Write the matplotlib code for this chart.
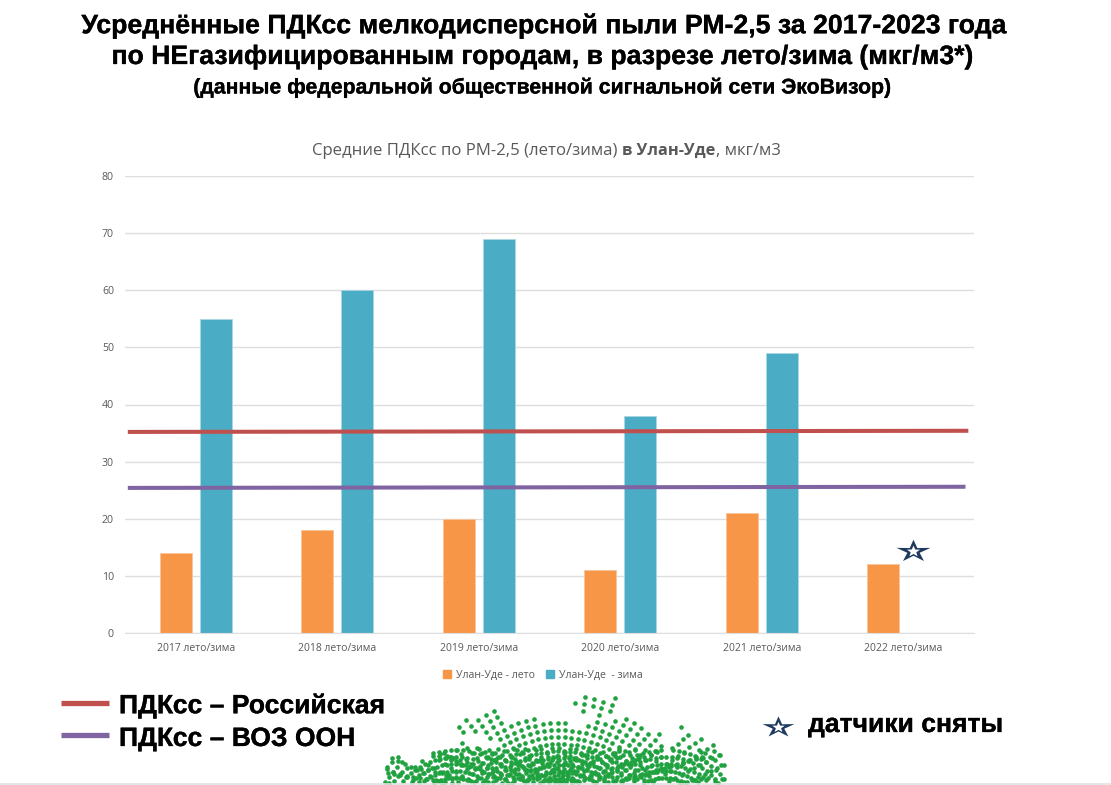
import numpy as np
import matplotlib
matplotlib.use("Agg")
import matplotlib.pyplot as plt
import matplotlib.patheffects as pe
from matplotlib.path import Path
from matplotlib.patches import Patch

categories = ["2017 лето/зима", "2018 лето/зима", "2019 лето/зима",
              "2020 лето/зима", "2021 лето/зима", "2022 лето/зима"]
summer = [14, 18, 20, 11, 21, 12]
winter = [55, 60, 69, 38, 49, np.nan]
pdk_ru = [35.2, 35.4]
pdk_who = [25.4, 25.6]
yticks = [0, 10, 20, 30, 40, 50, 60, 70, 80]

ORANGE, BLUE, RED, PURPLE = "#F79646", "#4BACC6", "#C0504D", "#8064A2"
NAVY, GREEN, GREY = "#1F3A5F", "#1FA23F", "#595959"
W, H = 1111, 785
SANS = "Liberation Sans"
UI = "Open Sans"
heavy = [pe.withStroke(linewidth=0.2, foreground="black")]


def star_path(sy=0.66, inner=0.36):
    a = np.pi / 2 + np.arange(10) * np.pi / 5
    r = np.where(np.arange(10) % 2 == 0, 1.0, inner)
    v = np.c_[r * np.cos(a), sy * r * np.sin(a)]
    return Path(np.vstack([v, v[0]]), closed=True)


def draw_star(axes, xs, ys, outer, small):
    axes.plot(xs, ys, marker=star_path(), ms=outer, mfc=NAVY, mec=NAVY, mew=0, ls="none", zorder=6, clip_on=False)
    axes.plot(xs, ys, marker=star_path(0.85, 0.42), ms=small, mfc="white", mec="white", mew=0, ls="none", zorder=7, clip_on=False)


fig = plt.figure(figsize=(W / 100, H / 100), dpi=100, facecolor="white")
L, R, T, B = 125, 974, 176, 633
ax = fig.add_axes([L / W, 1 - B / H, (R - L) / W, (B - T) / H])
x = np.arange(len(categories))
ax.bar(x - 0.141, summer, 0.226, color=ORANGE, edgecolor="#FBC49A", linewidth=0.6, zorder=2)
ax.bar(x + 0.141, winter, 0.226, color=BLUE, edgecolor="#A9D8E4", linewidth=0.6, zorder=2)
ax.plot([-0.48, 5.46], pdk_ru, color=RED, lw=2.9, zorder=3, solid_capstyle="butt")
ax.plot([-0.48, 5.44], pdk_who, color=PURPLE, lw=2.9, zorder=3, solid_capstyle="butt")
draw_star(ax, [5.07], [14.4], 24.5, 9.5)
ax.set_xlim(-0.5, 5.5)
ax.set_ylim(0, 80)
ax.set_yticks(yticks)
ax.set_xticks(x, categories)
ax.tick_params(length=0, labelsize=7.5, labelcolor=GREY, pad=7, labelfontfamily=UI)
ax.tick_params(axis="y", labelsize=7.6, pad=8)
ax.grid(axis="y", color="#DEDEDE", lw=1, zorder=0)
ax.set_axisbelow(True)
for name, s in ax.spines.items():
    s.set_visible(name == "bottom")
    s.set_color("#DEDEDE")
ax.legend(handles=[Patch(color=ORANGE, label="Улан-Уде - лето"), Patch(color=BLUE, label="Улан-Уде  - зима")],
          loc="center", bbox_to_anchor=((543 - L) / (R - L), (B - 675) / (B - T)),
          ncol=2, frameon=False, handlelength=0.7, handleheight=0.7, handletextpad=0.5, columnspacing=1.1,
          prop={"family": UI, "size": 7.6}, labelcolor=GREY)

ov = fig.add_axes([0, 0, 1, 1], zorder=5)
ov.set_xlim(0, W)
ov.set_ylim(H, 0)
ov.axis("off")
ov.patch.set_alpha(0)

ov.text(543, 26, "Усреднённые ПДКсс мелкодисперсной пыли РМ-2,5 за 2017-2023 года", ha="center", va="center",
        family=SANS, weight="bold", size=19.2, color="black", path_effects=heavy)
ov.text(543, 57, "по НЕгазифицированным городам, в разрезе лето/зима (мкг/м3*)", ha="center", va="center",
        family=SANS, weight="bold", size=19.15, color="black", path_effects=heavy)
ov.text(543, 88, "(данные федеральной общественной сигнальной сети ЭкоВизор)", ha="center", va="center",
        family=SANS, weight="bold", size=15.3, color="black", path_effects=heavy)
t1 = ov.text(312, 155, "Средние ПДКсс по РМ-2,5 (лето/зима)", ha="left", va="baseline", family=UI, size=12.05, color=GREY)
fig.canvas.draw()
bb = t1.get_window_extent()
t2 = ov.text(bb.x1 + 5, 155, "в Улан-Уде", ha="left", va="baseline", family=UI, size=11.8, weight="bold", color=GREY)
bb2 = t2.get_window_extent()
ov.text(bb2.x1, 155, ", мкг/м3", ha="left", va="baseline", family=UI, size=12.05, color=GREY)

ov.plot([61, 109], [703, 703], color=RED, lw=3.8, solid_capstyle="butt")
ov.plot([61, 109], [735, 735], color=PURPLE, lw=3.8, solid_capstyle="butt")
ov.text(119, 706, "ПДКсс – Российская", ha="left", va="center", family=SANS, weight="bold", size=19.1, color="black", path_effects=heavy)
ov.text(119, 739, "ПДКсс – ВОЗ ООН", ha="left", va="center", family=SANS, weight="bold", size=19.1, color="black", path_effects=heavy)
draw_star(ov, [778], [727], 23, 9)
ov.text(808, 725, "датчики сняты", ha="left", va="center", family=SANS, weight="bold", size=19.1, color="black", path_effects=heavy)

# decorative dotted map
outline = Path([(383, 777), (393, 753), (413, 768), (433, 752), (465, 740), (493, 750), (497, 743), (473, 733),
                (447, 732), (470, 718), (497, 703), (502, 723), (513, 720), (530, 717), (567, 722), (583, 730),
                (597, 713), (578, 712), (570, 697), (587, 697), (625, 695), (610, 712), (600, 720), (622, 715),
                (667, 735), (660, 757), (668, 757), (670, 742), (690, 733), (672, 722), (723, 747), (725, 783),
                (383, 784), (383, 777)])


def fan(cx, cy, step, dr, ymin):
    aa, rr = np.meshgrid(np.deg2rad(np.arange(6, 175, step)), np.arange(12, 260, dr))
    px = cx + rr.ravel() * np.cos(aa.ravel())
    py = cy - rr.ravel() * np.sin(aa.ravel())
    keep = outline.contains_points(np.c_[px, py]) & (py < 783) & (py > ymin)
    return px[keep], py[keep]


for args in [(560, 840, 3.7, 7.0, 0), (455, 825, 4.6, 7.0, 748), (665, 825, 4.6, 7.0, 748), (560, 800, 11, 6.5, 755)]:
    dx, dy = fan(*args)
    ov.scatter(dx, dy, s=11, color=GREEN, linewidths=0)
ov.plot([0, W], [784, 784], color="#E2E2E2", lw=1.2)

fig.savefig("out.png", dpi=100, facecolor="white")
